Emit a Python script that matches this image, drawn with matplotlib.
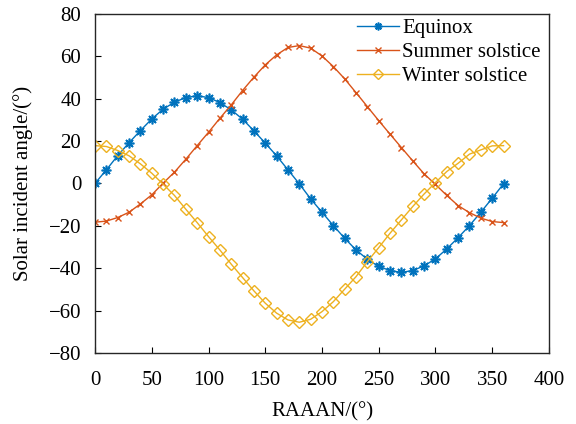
import matplotlib
matplotlib.use("Agg")
import matplotlib.pyplot as plt

plt.rcParams['font.family'] = ['Liberation Serif', 'DejaVu Serif']

raan = list(range(0, 361, 10))
equinox = [0, 6.4, 13.1, 19.2, 24.9, 30.4, 35.0, 38.3, 40.5, 41.3, 40.5, 38.1, 34.7, 30.3, 24.8,
           19.0, 13.0, 6.4, -0.2, -7.3, -13.6, -19.9, -25.9, -31.4, -35.8, -39.2, -41.1, -42.0,
           -41.1, -38.9, -35.6, -30.9, -25.6, -19.9, -13.6, -7.0, -0.2]
summer = [-18.3, -17.8, -16.1, -13.6, -9.7, -5.4, 0.1, 5.3, 11.4, 17.8, 24.1, 30.7, 37.0, 43.8, 50.1,
          55.9, 60.6, 64.1, 65.0, 63.8, 60.1, 55.1, 49.3, 42.8, 36.2, 29.6, 23.2, 16.9, 10.6, 4.5,
          -0.5, -5.7, -10.5, -13.8, -16.4, -18.0, -18.5]
winter = [17.8, 17.4, 15.5, 13.0, 9.2, 4.8, -0.4, -5.7, -12.2, -18.5, -25.1, -31.4, -38.1, -44.4,
          -50.7, -56.5, -61.2, -64.4, -65.5, -64.1, -60.5, -55.8, -49.9, -44.0, -36.9, -30.3, -23.5,
          -17.2, -10.9, -5.0, 0.4, 5.6, 9.5, 13.8, 15.8, 17.7, 17.8]

fig = plt.figure(figsize=(5.76, 4.24), dpi=100)
ax = fig.add_axes([0.165, 0.1675, 0.788, 0.8])

ax.plot(raan, equinox, color='#0072BD', marker=(8, 2, 0), markersize=7, markeredgewidth=1.2,
        linewidth=1.0, label='Equinox')
ax.plot(raan, summer, color='#D95319', marker='x', markersize=5, markeredgewidth=1.0,
        linewidth=1.0, label='Summer solstice')
ax.plot(raan, winter, color='#EDB120', marker='D', markersize=6, markerfacecolor='none',
        markeredgewidth=1.0, linewidth=1.0, label='Winter solstice')

ax.set_xlim(0, 400)
ax.set_ylim(-80, 80)
ax.set_xticks(range(0, 401, 50))
ax.set_yticks(range(-80, 81, 20))
ax.set_yticklabels(['\u221280', '\u221260', '\u221240', '\u221220', '0', '20', '40', '60', '80'])
ax.tick_params(direction='in', labelsize=15, length=4, top=False, right=False)
ax.tick_params(axis='x', pad=13)
ax.tick_params(axis='y', pad=10)
for s in ax.spines.values():
    s.set_linewidth(1.0)
    s.set_color('#262626')

ax.set_xlabel('RAAAN/(°)', fontsize=15, labelpad=9)
ax.set_ylabel('Solar incident angle/(°)', fontsize=15, labelpad=11)

leg = ax.legend(loc='upper right', frameon=False, fontsize=15, handlelength=2.0,
                borderaxespad=0.0, labelspacing=0.2, handletextpad=0.15, markerscale=0.8,
                bbox_to_anchor=(1.0, 1.01))

fig.savefig('out.png', dpi=100)
